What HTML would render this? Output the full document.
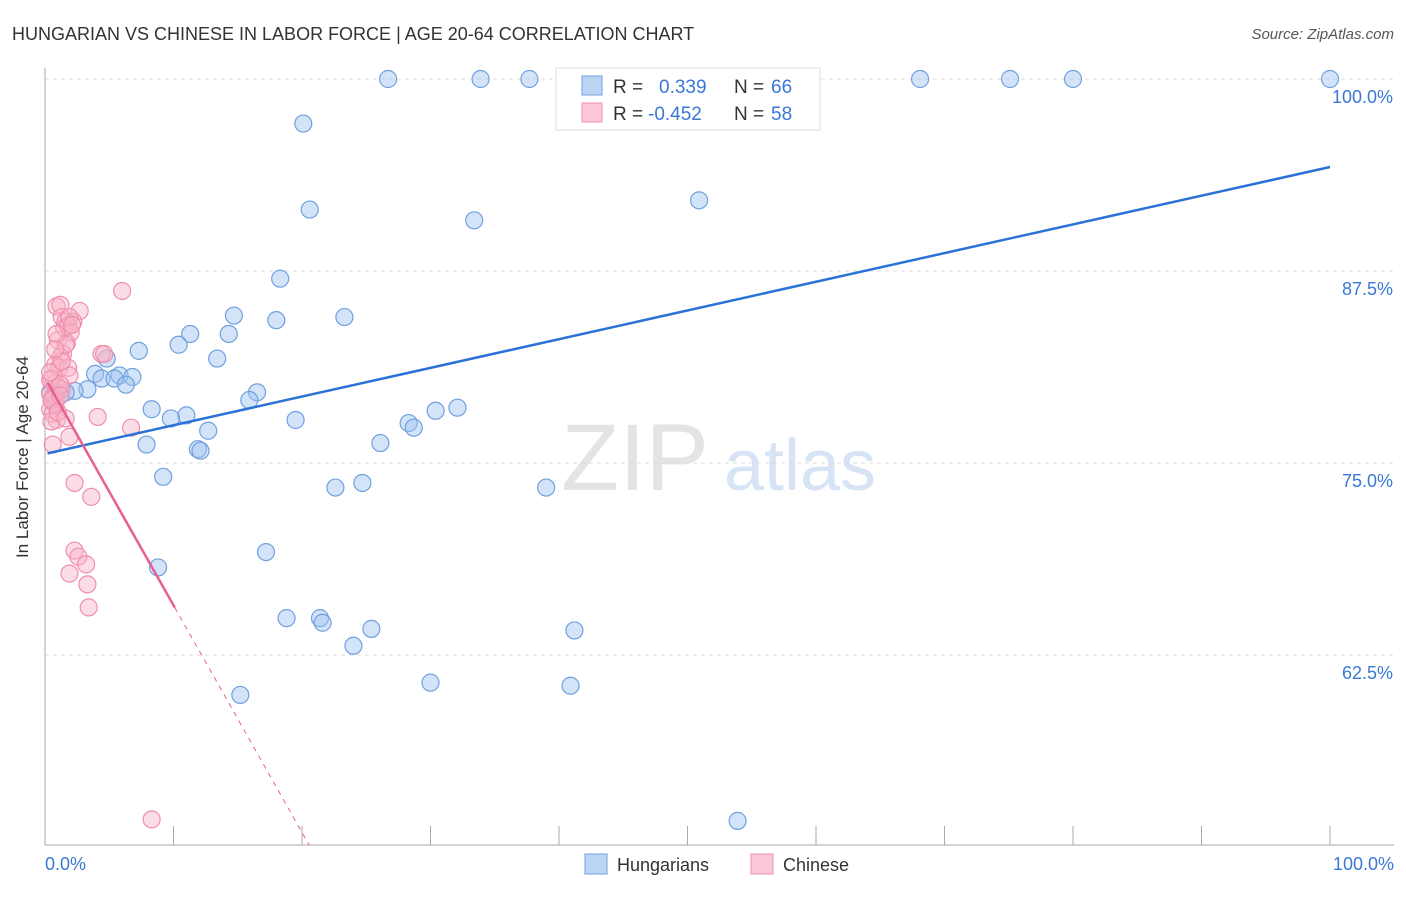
<!DOCTYPE html>
<html><head><meta charset="utf-8"><style>
body{margin:0;background:#fff;font-family:"Liberation Sans",sans-serif;}
svg text{font-family:"Liberation Sans",sans-serif;}
</style></head><body>
<svg id="chart" width="1406" height="892" xmlns="http://www.w3.org/2000/svg">
<text x="12" y="40" font-size="18" fill="#333">HUNGARIAN VS CHINESE IN LABOR FORCE | AGE 20-64 CORRELATION CHART</text>
<text x="1394" y="39" font-size="15" fill="#555" text-anchor="end" font-style="italic">Source: ZipAtlas.com</text>
<text x="635" y="490" font-size="95" fill="#e4e4e4" font-family="Liberation Serif" text-anchor="middle">ZIP</text>
<text x="800" y="490" font-size="72" fill="#d6e4f5" text-anchor="middle">atlas</text>
<g id="grid"></g><g id="axes"></g><g id="pts"></g><g id="lines"></g>
<text x="28" y="457" font-size="17" fill="#333" text-anchor="middle" transform="rotate(-90 28 457)">In Labor Force | Age 20-64</text>
<text x="45" y="870" font-size="18" fill="#3a78d6">0.0%</text>
<text x="1394" y="870" font-size="18" fill="#3a78d6" text-anchor="end">100.0%</text>
<g>
<rect x="556" y="68" width="264" height="62" fill="#fff" stroke="#ddd"/>
<rect x="582" y="76" width="20" height="19" fill="#bcd4f4" stroke="#6fa0e0"/>
<rect x="582" y="103" width="20" height="19" fill="#fac8d6" stroke="#ee90ad"/>
<text x="613" y="93" font-size="19" fill="#333">R = </text><text x="659" y="93" font-size="19" fill="#3a78d6">0.339</text>
<text x="734" y="93" font-size="19" fill="#333">N = </text><text x="771" y="93" font-size="19" fill="#3a78d6">66</text>
<text x="613" y="120" font-size="19" fill="#333">R = </text><text x="648" y="120" font-size="19" fill="#3a78d6">-0.452</text>
<text x="734" y="120" font-size="19" fill="#333">N = </text><text x="771" y="120" font-size="19" fill="#3a78d6">58</text>
</g>
<g><rect x="585" y="854" width="22" height="20" fill="#bcd4f4" stroke="#6fa0e0"/><text x="617" y="871" font-size="18" fill="#333">Hungarians</text></g>
<g><rect x="751" y="854" width="22" height="20" fill="#fac8d6" stroke="#ee90ad"/><text x="783" y="871" font-size="18" fill="#333">Chinese</text></g>
</svg>
<script>
const yTicks=[100,87.5,75,62.5];
const yTickLabels=["100.0%","87.5%","75.0%","62.5%"];
const hungX=[26.7,33.9,37.7,56.7,68.1,75.1,80.0,100,20.1,20.6,33.4,50.9,18.3,14.7,18.0,23.3,11.3,10.4,14.3,7.3,13.4,4.8,3.9,5.8,6.8,4.4,5.4,6.3,3.3,2.3,1.6,0.9,0.4,16.5,15.9,8.3,11.0,9.8,19.5,32.1,30.4,28.3,28.7,12.7,7.9,26.1,11.9,12.1,9.2,22.6,24.7,39.0,17.2,8.8,18.8,21.4,21.6,25.4,41.2,24.0,15.2,30.0,40.9,53.9,0.8,1.2];
const hungY=[100,100,100,100,100,100,100,100,97.1,91.5,90.8,92.1,87.0,84.6,84.3,84.5,83.4,82.7,83.4,82.3,81.8,81.8,80.8,80.7,80.6,80.5,80.5,80.1,79.8,79.7,79.6,79.6,79.6,79.6,79.1,78.5,78.1,77.9,77.8,78.6,78.4,77.6,77.3,77.1,76.2,76.3,75.9,75.8,74.1,73.4,73.7,73.4,69.2,68.2,64.9,64.9,64.6,64.2,64.1,63.1,59.9,60.7,60.5,51.7,78.8,79.4];
const chinX=[0.9,1.2,2.7,1.3,1.6,2.2,1.5,1.8,2.0,1.0,1.7,6.0,1.4,1.2,4.4,4.6,0.8,1.1,1.8,1.9,0.5,0.8,1.0,1.3,0.4,0.6,0.8,0.4,0.6,4.1,0.9,0.5,6.7,1.9,0.6,2.3,3.6,2.3,2.6,3.2,1.9,3.3,3.4,8.3,0.4,0.7,1.2,1.6,0.9,1.9,0.5,1.0,1.6,0.4,1.3,0.8,1.2,2.1];
const chinY=[85.2,85.3,84.9,84.5,84.2,84.2,83.8,83.9,83.5,83.0,82.8,86.2,82.1,81.9,82.1,82.1,81.4,81.2,81.2,80.7,80.5,80.2,79.9,79.8,79.5,79.2,78.9,78.5,78.2,78.0,77.8,77.7,77.3,76.7,76.2,73.7,72.8,69.3,68.9,68.4,67.8,67.1,65.6,51.8,80.4,79.4,80.1,82.7,83.4,84.5,79.1,78.3,77.9,80.9,81.6,82.4,79.4,84.0];
const hungTrend=[75.59,94.27]; // y at x=0, x=100
const chinTrend=[80.53,-1.479]; // intercept, slope
const X0=45,X1=1330,YTOP=79,PXPER=15.36;
const sx=v=>X0+(X1-X0)*v/100, sy=v=>YTOP+(100-v)*PXPER;
const NS="http://www.w3.org/2000/svg";
function mk(t,a,p){const e=document.createElementNS(NS,t);for(const k in a)e.setAttribute(k,a[k]);document.getElementById(p).appendChild(e);return e;}
yTicks.forEach((v,i)=>{
 const l=mk('line',{x1:X0,x2:1394,y1:sy(v),y2:sy(v),stroke:'#ddd','stroke-dasharray':'4,4'},'grid');
 
 
 const t=mk('text',{x:1393,y:sy(v)+24,'font-size':18,fill:'#3a78d6','text-anchor':'end'},'grid');t.textContent=yTickLabels[i];
 
 
});
const ax=mk('line',{x1:X0,x2:X0,y1:68,y2:845,stroke:'#aaa'},'axes');


const bx=mk('line',{x1:X0,x2:1394,y1:845,y2:845,stroke:'#aaa'},'axes');


for(let i=0;i<=10;i++){const tk=mk('line',{x1:sx(i*10),x2:sx(i*10),y1:826,y2:845,stroke:'#aaa'},'axes');
 
 }
hungX.forEach((x,i)=>{const c=mk('circle',{cx:sx(x),cy:sy(hungY[i]),r:8.5,fill:'rgba(160,196,240,0.45)',stroke:'#6fa0e0','stroke-width':1.2},'pts');
 
 });
chinX.forEach((x,i)=>{const c=mk('circle',{cx:sx(x),cy:sy(chinY[i]),r:8.5,fill:'rgba(248,180,200,0.45)',stroke:'#ee90ad','stroke-width':1.2},'pts');
 
 });
const hl=mk('line',{x1:sx(0.2),y1:sy(hungTrend[0]+(hungTrend[1]-hungTrend[0])*0.002),x2:sx(100),y2:sy(hungTrend[1]),stroke:'#2a72d6','stroke-width':2.5},'lines');


const ce=10.1, cd=(50.1-chinTrend[0])/chinTrend[1];
const cl=mk('line',{x1:sx(0.2),y1:sy(chinTrend[0]+chinTrend[1]*0.2),x2:sx(ce),y2:sy(chinTrend[0]+chinTrend[1]*ce),stroke:'#e8608e','stroke-width':2.5},'lines');


const cl2=mk('line',{x1:sx(ce),y1:sy(chinTrend[0]+chinTrend[1]*ce),x2:sx(cd),y2:sy(chinTrend[0]+chinTrend[1]*cd),stroke:'#e8608e','stroke-width':1,'stroke-dasharray':'5,5'},'lines');


</script>
</body></html>
